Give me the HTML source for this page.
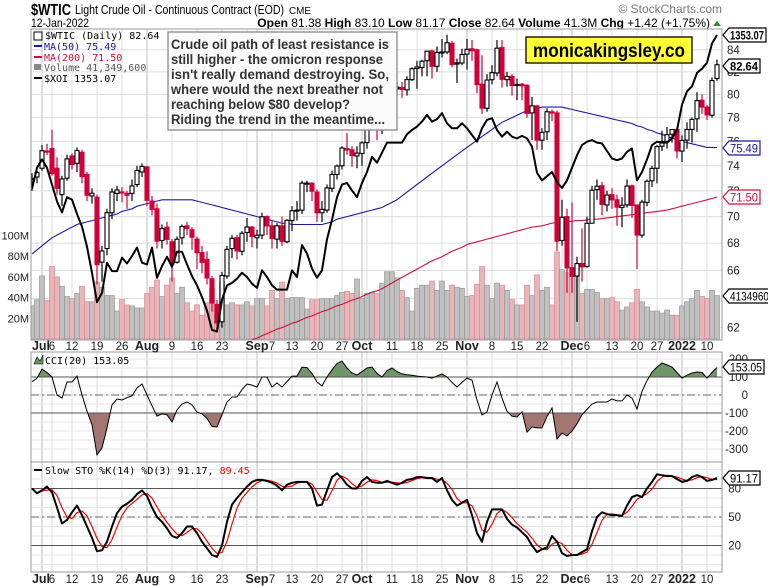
<!DOCTYPE html>
<html><head><meta charset="utf-8"><style>
body{margin:0;background:#fff;width:768px;height:586px;overflow:hidden}
svg{display:block;font-family:"Liberation Sans",sans-serif}
.mono{font-family:"DejaVu Sans Mono","Liberation Mono",monospace}
</style></head><body>
<svg id="c" width="768" height="586" viewBox="0 0 768 586"></svg>
<script>
const closes=[72.98,73.47,75.23,75.16,73.37,72.20,72.94,74.56,74.10,75.25,73.13,71.65,71.81,66.42,67.42,70.30,71.91,72.07,71.91,71.65,72.39,73.62,73.95,71.26,70.56,68.15,69.09,68.28,66.48,68.29,69.25,69.09,68.44,67.29,66.59,65.46,63.69,62.32,65.64,67.54,68.36,67.42,68.74,69.21,68.50,68.59,69.99,69.29,68.35,69.30,68.14,69.72,70.45,70.46,72.61,72.61,71.97,70.29,70.56,72.23,73.30,73.98,75.45,75.29,74.83,75.03,75.88,77.62,78.93,77.43,77.47,79.35,80.52,80.64,80.44,81.31,82.28,82.44,82.96,83.87,82.50,83.76,83.76,84.65,82.66,82.81,83.57,84.05,83.91,80.86,78.81,81.27,81.93,84.15,81.34,81.59,80.79,80.88,80.76,78.36,79.01,76.10,76.75,78.50,78.39,68.15,69.95,66.18,65.57,66.50,66.26,69.49,72.05,72.36,70.94,71.67,71.29,70.73,70.87,72.38,70.86,68.61,71.12,72.76,73.79,75.57,75.98,76.56,76.99,75.21,76.08,76.99,77.85,79.46,78.90,78.23,81.22,82.64];
const opens=[72.9,73.1,73.8,75.2,75.4,73.8,71.7,73.0,74.8,74.2,75.1,73.3,71.6,71.5,66.6,67.6,70.3,71.8,71.9,71.8,71.8,72.5,73.5,73.9,71.2,70.6,68.2,69.2,68.1,66.6,68.4,69.3,69.0,68.3,67.3,66.8,65.4,63.6,62.4,65.6,67.6,68.4,67.4,68.8,69.2,68.4,68.6,70.0,69.3,68.3,69.3,68.1,69.7,70.5,70.5,72.6,72.6,71.9,70.3,70.5,72.2,73.3,74.0,75.4,75.3,74.8,75.0,75.9,77.6,78.9,77.4,77.5,79.4,80.5,80.6,80.4,81.3,82.3,82.4,83.0,83.9,82.5,83.8,83.8,84.6,82.7,82.8,83.6,84.1,84.0,80.9,78.8,81.3,81.9,84.2,81.3,81.6,80.8,80.9,80.8,78.4,79.0,76.1,76.8,78.5,78.4,68.2,70.0,66.2,65.6,66.5,66.3,69.5,72.1,72.4,70.9,71.7,71.3,70.7,70.9,72.4,70.9,68.6,71.1,72.8,73.8,75.6,76.0,76.6,77.0,75.2,76.1,77.0,77.9,79.5,78.9,78.2,81.4];
const highs=[73.4,73.6,75.7,75.8,76.98,74.7,73.2,74.9,75.0,75.5,75.3,73.5,72.2,71.7,67.8,70.6,72.2,72.4,72.3,72.0,72.9,74.0,74.2,74.0,71.6,71.0,69.4,69.6,68.3,68.5,69.4,69.6,69.2,68.5,67.8,67.4,65.6,63.9,65.9,67.8,68.6,68.6,68.9,69.9,69.3,69.0,70.3,70.1,69.7,69.5,70.0,69.8,70.8,71.2,72.8,72.8,72.7,72.1,71.2,72.5,73.6,74.1,75.6,76.7,75.6,75.6,76.0,77.8,79.5,79.8,78.4,79.8,82.2,81.1,81.1,81.6,82.4,83.0,83.1,83.9,84.0,84.3,85.0,85.4,84.8,83.2,84.1,85.0,84.9,84.1,83.5,81.8,82.6,84.9,84.9,82.0,81.8,81.4,81.0,80.9,79.8,79.1,77.1,78.8,78.7,78.6,71.3,70.6,71.1,67.0,69.1,70.0,72.4,72.9,72.7,72.0,72.2,71.7,71.5,72.9,72.5,70.9,71.3,72.9,74.0,75.7,76.9,77.2,77.0,77.0,76.5,77.6,78.0,80.2,80.0,79.1,81.5,83.1];
const lows=[72.0,72.6,73.6,74.9,73.2,71.7,70.8,72.8,73.7,73.5,72.6,71.2,71.0,65.0,65.2,67.1,69.8,71.2,71.1,70.6,71.2,72.3,73.1,70.8,70.1,67.6,67.6,67.9,65.2,66.5,67.9,68.6,67.5,66.1,65.8,65.0,63.1,61.7,62.0,65.4,66.9,66.8,67.1,68.1,67.7,67.6,68.3,68.6,67.6,67.6,67.8,68.0,68.9,69.7,70.2,71.9,71.2,69.6,69.6,70.3,71.9,72.9,73.7,74.9,73.9,73.8,74.0,75.4,77.4,76.1,76.6,77.4,79.2,79.9,79.7,79.9,81.2,80.5,81.6,81.6,81.4,82.0,83.3,83.6,82.4,81.0,82.6,82.2,83.0,80.1,78.3,78.5,80.9,81.6,80.6,80.7,79.9,79.5,79.5,78.0,76.1,75.3,75.3,76.1,77.7,67.4,67.8,64.4,64.4,62.4,65.2,66.2,69.5,71.3,70.1,70.4,70.6,69.3,69.2,70.7,69.9,66.1,68.4,70.8,72.3,72.6,75.2,75.4,75.9,74.6,74.3,75.4,75.9,76.8,78.3,77.8,78.0,81.2];
const volumes=[32,38,61,37,70,60,51,41,39,44,51,36,36,55,50,42,42,27,38,33,32,30,30,44,50,57,41,52,59,44,50,35,27,33,23,35,49,33,55,33,35,33,33,36,32,39,39,32,47,39,55,39,40,40,40,29,38,38,39,39,39,42,45,46,44,58,39,44,45,44,54,65,65,59,47,40,27,49,52,52,56,47,56,47,52,50,49,41,42,53,70,52,39,54,52,47,38,33,33,52,42,62,47,50,33,84,67,64,59,70,44,48,48,45,39,39,40,36,28,31,35,48,36,31,27,27,25,28,23,23,32,36,39,47,41,39,47,42];
const xoi=[1170,1195,1205,1195,1175,1155,1142,1160,1157,1140,1125,1101,1070,1035,1046,1082,1072,1072,1088,1081,1090,1100,1082,1080,1100,1064,1078,1089,1077,1095,1095,1080,1066,1055,1041,1025,1002,1000,1038,1055,1058,1063,1070,1065,1057,1052,1073,1065,1055,1050,1050,1050,1073,1065,1103,1093,1075,1064,1073,1110,1133,1160,1175,1177,1168,1160,1177,1190,1208,1201,1213,1225,1225,1225,1225,1235,1240,1244,1250,1258,1250,1253,1260,1248,1242,1242,1248,1242,1234,1226,1242,1252,1254,1240,1232,1238,1232,1230,1233,1230,1220,1189,1180,1185,1190,1178,1171,1180,1195,1210,1222,1226,1228,1225,1224,1215,1206,1204,1206,1214,1218,1180,1190,1205,1222,1226,1225,1225,1230,1240,1270,1286,1292,1308,1313,1320,1343,1353.07];
const ma50=[67.2,67.5,67.8,68.1,68.4,68.6,68.8,69.0,69.2,69.4,69.5,69.6,69.7,69.8,69.9,70.0,70.1,70.2,70.4,70.5,70.6,70.8,70.9,71.0,71.1,71.2,71.3,71.3,71.3,71.3,71.3,71.3,71.3,71.2,71.1,71.0,70.9,70.8,70.7,70.6,70.5,70.4,70.3,70.2,70.1,70.0,69.9,69.8,69.7,69.6,69.5,69.5,69.4,69.4,69.4,69.4,69.4,69.4,69.4,69.5,69.6,69.8,69.9,70.0,70.1,70.2,70.3,70.4,70.5,70.6,70.7,70.9,71.1,71.3,71.6,71.9,72.2,72.5,72.8,73.1,73.4,73.7,74.0,74.3,74.6,74.9,75.2,75.5,75.8,76.1,76.4,76.7,77.0,77.3,77.6,77.8,78.0,78.2,78.4,78.6,78.7,78.8,78.9,78.9,78.9,78.9,78.9,78.8,78.7,78.6,78.5,78.4,78.3,78.2,78.1,78.0,77.9,77.8,77.7,77.6,77.5,77.3,77.2,77.0,76.9,76.7,76.6,76.4,76.3,76.1,76.0,75.9,75.8,75.7,75.6,75.5,75.5,75.49];
const ma200=[null,null,null,null,null,null,null,null,null,null,null,null,null,null,null,null,null,null,null,null,null,null,null,null,null,null,null,null,null,null,null,null,null,null,null,null,null,null,null,null,60.6,60.75,60.9,61.05,61.2,61.3,61.45,61.6,61.75,61.9,62.0,62.15,62.3,62.4,62.55,62.7,62.8,62.95,63.1,63.2,63.35,63.5,63.6,63.75,63.9,64.0,64.15,64.3,64.45,64.55,64.7,64.9,65.1,65.3,65.5,65.7,65.9,66.1,66.3,66.5,66.7,66.85,67.0,67.2,67.4,67.55,67.7,67.9,68.0,68.1,68.2,68.3,68.4,68.5,68.6,68.7,68.8,68.9,69.0,69.1,69.2,69.25,69.3,69.4,69.5,69.55,69.6,69.6,69.65,69.7,69.7,69.75,69.8,69.8,69.85,69.9,69.95,70.0,70.05,70.1,70.15,70.2,70.25,70.3,70.35,70.4,70.45,70.5,70.6,70.7,70.8,70.9,71.0,71.1,71.2,71.3,71.4,71.5];
const cci=[74,94,144,125,100,0,-17,72,72,105,0,-90,-165,-333,-294,-183,-55,-22,-28,-15,-5,39,61,0,-60,-117,-105,-110,-150,-83,-50,-39,-55,-95,-105,-130,-175,-178,-110,-39,-11,-11,30,61,55,44,100,100,44,67,44,75,105,105,155,152,120,72,50,100,140,175,189,150,122,111,130,150,155,120,100,135,150,130,117,112,110,105,102,100,94,105,117,100,70,44,70,94,83,-28,-111,-94,0,72,-17,-90,-118,-122,-94,-206,-178,-183,-183,-120,-72,-244,-211,-228,-200,-160,-110,-80,-50,-39,-39,-39,-22,-33,-33,0,-17,-78,20,80,128,155,178,167,155,125,94,110,122,128,125,94,125,153.05];
const stoK=[80,75,78,82,76,60,43,47,55,62,52,40,28,14,15,24,40,54,61,64,68,74,78,72,60,50,45,38,30,28,33,40,40,33,24,17,10,8,20,45,63,70,76,82,87,89,89,88,86,83,78,84,86,87,87,87,80,62,63,78,92,96,91,84,80,80,88,92,87,86,86,88,86,84,86,89,90,92,92,91,91,87,91,78,68,62,65,68,52,33,24,45,58,58,58,48,42,39,34,29,20,13,16,18,30,24,12,9,10,10,13,16,35,50,55,53,52,52,51,62,71,73,71,80,87,95,94,93,93,90,87,88,92,94,92,88,89,91.17];
const tickIdx=[2,4,8,13,18,23,28,33,38,45,48,52,57,62,66,72,77,82,87,92,97,102,108,111,116,121,125,130,135];
const tickLbl=["Jul","6","12","19","26","Aug","9","16","23","Sep","7","13","20","27","Oct","11","18","25","Nov","8","15","22","Dec","6","13","20","27","2022","10"];
const monthIdx=[2,23,45,66,87,108,130];
const weekIdx=[4,8,13,18,28,33,38,43,48,52,57,62,67,72,77,82,92,97,102,106,111,116,121,125,135];
const priceTicks=[62,64,66,68,70,72,74,76,78,80,82,84];
const volTicks=[20,40,60,80,100];
const cciTicks=[200,100,0,-100,-200,-300];
const stoTicks=[80,50,20];

const NS="http://www.w3.org/2000/svg";
const svg=document.getElementById('c');
function el(tag,attrs,parent){const e=document.createElementNS(NS,tag);for(const k in attrs)e.setAttribute(k,attrs[k]);(parent||svg).appendChild(e);return e;}
function tx(str,attrs,parent){const e=el('text',attrs,parent);e.textContent=str;return e;}
const L=31,R=722,PT=29,PB=340,CT=352,CB=462,ST=462,SB=572;
const X=i=>32+5*i;
const yP=p=>4104-915*Math.log(p);
const yV=v=>339-1.035*v;
const yX=v=>35+(1353.07-v)*0.84;
const yC=v=>395-0.18*v;
const yS=v=>517-(v-50)*0.95;
const RED="#d1003a";

const defs=el('defs',{});
const cp=el('clipPath',{id:'cp'},defs);el('rect',{x:L,y:PT,width:R-L,height:PB-PT},cp);
const cc=el('clipPath',{id:'cc'},defs);el('rect',{x:L,y:CT,width:R-L,height:CB-CT},cc);
const cs=el('clipPath',{id:'cs'},defs);el('rect',{x:L,y:ST,width:R-L,height:SB-ST},cs);
const cup=el('clipPath',{id:'cup'},defs);el('rect',{x:L,y:CT,width:R-L,height:yC(100)-CT},cup);
const cdn=el('clipPath',{id:'cdn'},defs);el('rect',{x:L,y:yC(-100),width:R-L,height:CB-yC(-100)},cdn);

let t;
t=tx("$WTIC",{x:31,y:15,'font-size':16,'font-weight':'bold',textLength:40,lengthAdjust:'spacingAndGlyphs'});

t=tx("Light Crude Oil - Continuous Contract (EOD)",{x:75,y:14,'font-size':12.5,textLength:209,lengthAdjust:'spacingAndGlyphs'});

t=tx("CME",{x:289,y:14,'font-size':10.5,textLength:22,lengthAdjust:'spacingAndGlyphs'});

t=tx("12-Jan-2022",{x:31,y:27,'font-size':12,textLength:58,lengthAdjust:'spacingAndGlyphs'});

t=tx("© StockCharts.com",{x:722,y:13,'font-size':12,fill:'#777','text-anchor':'end'});

const hdr=el('text',{x:710,y:27,'font-size':12,'text-anchor':'end'});

hdr.innerHTML='<tspan font-weight="bold">Open</tspan> 81.38  <tspan font-weight="bold">High</tspan> 83.10  <tspan font-weight="bold">Low</tspan> 81.17  <tspan font-weight="bold">Close</tspan> 82.64  <tspan font-weight="bold">Volume</tspan> 41.3M  <tspan font-weight="bold">Chg</tspan> +1.42 (+1.75%)';
hdr.setAttribute('xml:space','preserve');
t=el('path',{d:'M713 26 L717 21 L721 26 Z',fill:'#2e8b2e'});


function hline(y,stroke,dash,w){const a={x1:L,x2:R,y1:y,y2:y,stroke:stroke,'stroke-width':w||1};if(dash)a['stroke-dasharray']=dash;return el('line',a);}
const grid=el('g',{});

function vgrid(top,bot){
  weekIdx.forEach(i=>el('line',{x1:X(i),x2:X(i),y1:top,y2:bot,stroke:'#dcdcdc'},grid));
  monthIdx.forEach(i=>el('line',{x1:X(i),x2:X(i),y1:top,y2:bot,stroke:'#bdbdbd'},grid));
}
vgrid(PT,PB);vgrid(CT,CB);vgrid(ST,SB);
priceTicks.forEach(p=>el('line',{x1:L,x2:R,y1:yP(p),y2:yP(p),stroke:'#dcdcdc'},grid));
for(let v=-300;v<=200;v+=50)el('line',{x1:L,x2:R,y1:yC(v),y2:yC(v),stroke:'#e4e4e4'},grid);
for(let v=0;v<=100;v+=10)el('line',{x1:L,x2:R,y1:yS(v),y2:yS(v),stroke:'#e4e4e4'},grid);

const vg=el('g',{'clip-path':'url(#cp)'});

volumes.forEach((v,i)=>{
  const down=i>0&&closes[i]<closes[i-1];
  const r=el('rect',{x:X(i)-2.5,y:yV(v),width:5,height:339-yV(v),fill:down?'#e8b5b9':'#c0c0c0',stroke:down?'#d98a92':'#999','stroke-width':0.7},vg);
  
  
});

function linePath(arr,yf){let d='';arr.forEach((v,i)=>{if(v==null)return;d+=(d?'L':'M')+X(i)+' '+yf(v).toFixed(1);});return d;}
t=el('path',{d:linePath(ma200,yP),fill:'none',stroke:'#d0103a','stroke-width':1.1,'clip-path':'url(#cp)'});

t=el('path',{d:linePath(ma50,yP),fill:'none',stroke:'#1a1aa0','stroke-width':1.1,'clip-path':'url(#cp)'});


const cg=el('g',{'clip-path':'url(#cp)'});

closes.forEach((c,i)=>{
  const o=opens[i];const col=(i>0&&c<closes[i-1])?RED:'#000';
  const g=el('g',{},cg);
  
  
  el('line',{x1:X(i),x2:X(i),y1:yP(highs[i]),y2:yP(lows[i]),stroke:col,'stroke-width':1.2},g);
  const top=yP(Math.max(o,c)),bot=yP(Math.min(o,c));
  const hollow=c>=o;
  el('rect',{x:X(i)-2,y:top,width:4,height:Math.max(1,bot-top),fill:hollow?'#fff':col,stroke:col,'stroke-width':1.1},g);
});

t=el('path',{d:linePath(xoi,yX),fill:'none',stroke:'#000','stroke-width':2,'clip-path':'url(#cp)','stroke-linejoin':'round'});


const cciLine=linePath(cci,yC);
const lastX=X(cci.length-1);
t=el('path',{d:cciLine+'L'+lastX+' '+yC(100)+'L'+X(0)+' '+yC(100)+'Z',fill:'#6f9468',stroke:'none','clip-path':'url(#cup)'});

t=el('path',{d:cciLine+'L'+lastX+' '+yC(-100)+'L'+X(0)+' '+yC(-100)+'Z',fill:'#a27570',stroke:'none','clip-path':'url(#cdn)'});

hline(yC(100),'#555');hline(yC(-100),'#555');hline(yC(0),'#666','8,3,2,3');
t=el('path',{d:cciLine,fill:'none',stroke:'#000','stroke-width':1,'clip-path':'url(#cc)'});


hline(yS(80),'#555');hline(yS(20),'#555');hline(yS(50),'#666','8,3,2,3');
const stoD=stoK.map((v,i)=>i<2?v:(stoK[i]+stoK[i-1]+stoK[i-2])/3);
t=el('path',{d:linePath(stoD,yS),fill:'none',stroke:'#f00','stroke-width':1.2,'clip-path':'url(#cs)'});

t=el('path',{d:linePath(stoK,yS),fill:'none',stroke:'#000','stroke-width':2,'clip-path':'url(#cs)','stroke-linejoin':'round'});


[[PT,PB],[CT,CB],[ST,SB]].forEach(([a,b])=>el('rect',{x:L,y:a,width:R-L,height:b-a,fill:'none',stroke:'#999'}));

const ax=el('g',{'font-size':11.5,fill:'#222'});

priceTicks.forEach(p=>tx(String(p),{x:727,y:yP(p)+4},ax));
const vax=el('g',{'font-size':11,fill:'#222','text-anchor':'end'});

volTicks.forEach(v=>tx(v+'M',{x:29,y:yV(v)+4},vax));
const cax=el('g',{'font-size':11.5,fill:'#222','text-anchor':'end'});

cciTicks.forEach(v=>tx(String(v),{x:748,y:yC(v)+4},cax));
const sax=el('g',{'font-size':11.5,fill:'#222','text-anchor':'end'});

stoTicks.forEach(v=>tx(String(v),{x:741,y:yS(v)+4},sax));
[[PB+10,'date-axis-top'],[SB+11,'date-axis-bottom']].forEach(([y,n])=>{
  const g=el('g',{'font-size':11.5,fill:'#222','text-anchor':'middle'});
  
  tickIdx.forEach((i,k)=>{const isM=monthIdx.includes(i);tx(tickLbl[k],{x:X(i)+(tickLbl[k]==='Jul'?-1:0),y:y,'font-weight':isM?'bold':'normal','font-size':isM?12.5:11.5},g);});
});

function tag(y,text,stroke,color,name,w,bold){
  const g=el('g',{});
  
  el('path',{d:`M723 ${y} L729 ${y-7} L${729+w} ${y-7} L${729+w} ${y+7} L729 ${y+7} Z`,fill:'#fff',stroke:stroke,'stroke-width':1.2},g);
  tx(text,{x:730,y:y+4.5,'font-size':12,fill:color,'font-weight':bold?'bold':'normal',textLength:w-3,lengthAdjust:'spacingAndGlyphs'},g);
}
tag(35,'1353.07','#000','#000','xoi-tag',37,true);
tag(66,'82.64','#000','#000','price-tag',31,true);
tag(148,'75.49','#1a1aa0','#1a1aa0','ma50-tag',31,false);
tag(197,'71.50','#d0103a','#d0103a','ma200-tag',31,false);
tag(296,'4134960','#000','#000','volume-tag',42,false);
tag(367,'153.05','#000','#000','cci-tag',35,false);
tag(478,'91.17','#000','#000','sto-tag',31,false);

const lg=el('g',{'font-size':10},null);lg.setAttribute('class','mono');

tx('$WTIC (Daily) 82.64',{x:45,y:39},lg);
el('rect',{x:34,y:32,width:8,height:8,fill:'none',stroke:'#000'},lg);
el('line',{x1:34,x2:42,y1:46,y2:46,stroke:'#1a1aa0','stroke-width':2},lg);tx('MA(50) 75.49',{x:44,y:50,fill:'#1a1aa0'},lg);
el('line',{x1:34,x2:42,y1:57,y2:57,stroke:'#d0103a','stroke-width':2},lg);tx('MA(200) 71.50',{x:44,y:61,fill:'#d0103a'},lg);
el('rect',{x:34,y:64,width:7,height:6,fill:'#888'},lg);tx('Volume 41,349,600',{x:44,y:71,fill:'#555'},lg);
el('line',{x1:34,x2:42,y1:78,y2:78,stroke:'#000','stroke-width':2},lg);tx('$XOI 1353.07',{x:44,y:82},lg);
const lc=el('g',{'font-size':10});lc.setAttribute('class','mono');

el('path',{d:'M34 364 L37 357 L40 361 L43 355 L43 364 Z',fill:'#6f9468',stroke:'#000','stroke-width':0.6},lc);
tx('CCI(20) 153.05',{x:45,y:364},lc);
const ls=el('g',{'font-size':10});ls.setAttribute('class','mono');

el('line',{x1:34,x2:42,y1:470,y2:470,stroke:'#000','stroke-width':2},ls);
const st=tx('Slow STO %K(14) %D(3) 91.17, ',{x:45,y:474},ls);
const ts=document.createElementNS(NS,'tspan');ts.setAttribute('fill','#f00');ts.textContent='89.45';st.appendChild(ts);

const an=el('g',{});
el('rect',{x:168,y:32,width:229,height:98,fill:'#fafafa',stroke:'#888','stroke-width':1.3},an);
const annLines=["Crude oil path of least resistance is","still higher - the omicron response","isn't really demand destroying. So,","where would the next breather not","reaching below $80 develop?","Riding the trend in the meantime..."];
const annW=[218,212,218,212,179,214];
annLines.forEach((s,k)=>tx(s,{x:171,y:49+15*k,'font-size':13.5,'font-weight':'bold',fill:'#333',textLength:annW[k],lengthAdjust:'spacingAndGlyphs'},an));
const mk=el('g',{});
el('rect',{x:526,y:37,width:166,height:26,fill:'#ffff33',stroke:'#000','stroke-width':1.3},mk);
tx('monicakingsley.co',{x:533,y:57,'font-size':19,'font-weight':'bold',textLength:152,lengthAdjust:'spacingAndGlyphs'},mk);
</script>
</body></html>
